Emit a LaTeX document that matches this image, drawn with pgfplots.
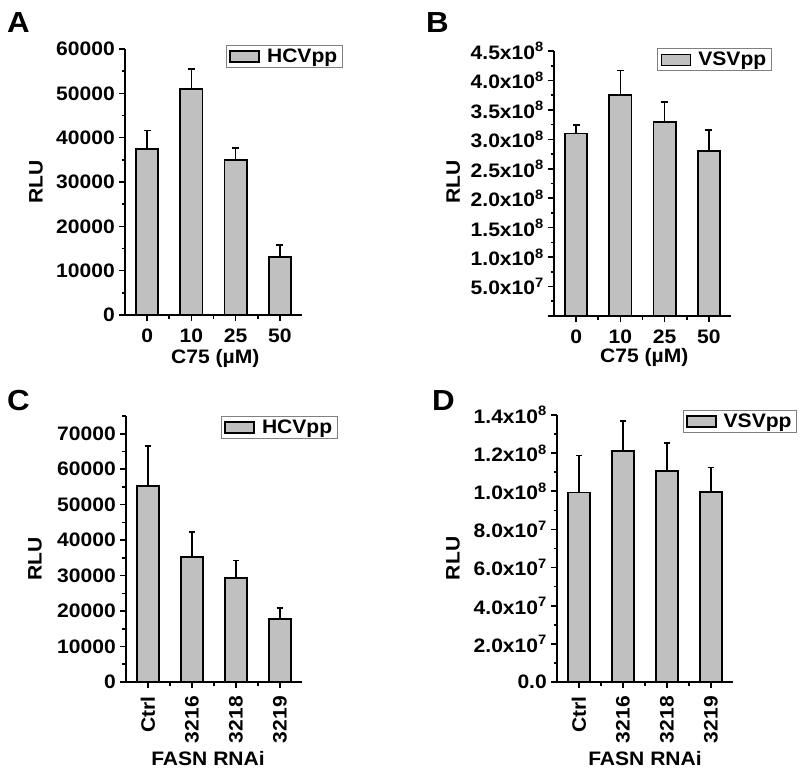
\documentclass[border=0pt]{standalone}
\usepackage{pgfplots}
\pgfplotsset{compat=1.18}
\usepackage{fontspec}
\setmainfont{Liberation Sans}[FakeStretch=1.08]
\definecolor{barfill}{RGB}{192,192,192}
\newcommand\lab{\fontsize{19.5pt}{21pt}\selectfont\bfseries}
\newcommand\panelfont{\fontsize{29pt}{31pt}\selectfont\bfseries}
\pgfplotsset{
 panel/.style={
   scale only axis, axis lines=left, axis line style={-, line width=1.9pt},
   tick align=outside, major tick length=6pt, minor tick length=3.5pt,
   every tick/.style={black, line width=1.6pt},
   xmin=-0.5, xmax=3.5, xtick={0,1,2,3}, minor xtick={0.5,1.5,2.5},
   ymin=0, scaled y ticks=false,
   ybar, bar width=0.5,
   /pgf/number format/assume math mode=true,
   tick label style={font=\lab, inner sep=0pt},
   xticklabel style={anchor=north},
   yticklabel style={anchor=east},
   xticklabel shift=8pt, yticklabel shift=4pt,
   label style={font=\lab},
   legend style={font=\lab, draw=gray, line width=0.8pt, anchor=north west, inner xsep=3pt, inner ysep=1.5pt,
     nodes={inner xsep=2pt, inner ysep=2pt},
     /tikz/every odd column/.append style={column sep=5pt}},
   legend cell align=left,
   legend image code/.code={\draw[fill=barfill, line width=1.6pt, draw=black] (0pt,-5.5pt) rectangle (29pt,5.5pt);},
   error bars/y dir=plus, error bars/y explicit,
   error bars/error bar style={line width=1.7pt, black},
   error bars/error mark options={line width=1.7pt, mark size=3.4pt, rotate=90, black},
   clip=false,
 },
 barstyle/.style={fill=barfill, draw=black, line width=1.7pt},
}
\begin{document}
\begin{tikzpicture}[font=\lab]
\useasboundingbox (0,0) rectangle (800pt,-780pt);
% Panel A
\begin{axis}[panel, at={(125pt,-315pt)}, anchor=south west, width=177pt, height=266pt,
  ymax=60000, ytick={0,10000,20000,30000,40000,50000,60000},
  yticklabels={0,10000,20000,30000,40000,50000,60000},
  minor ytick={5000,15000,25000,35000,45000,55000},
  xticklabels={0,10,25,50},
  xlabel={C75 (µM)}, ylabel={RLU},
  xlabel style={at={(axis description cs:0.51,-0.162)}, anchor=center},
  ylabel style={at={(axis description cs:-0.503,0.5)}, anchor=center},
  legend style={at={(axis description cs:0.571,1.015)}}]
\addplot[barstyle] coordinates {(0,37500) +- (0,4100) (1,51000) +- (0,4500) (2,35000) +- (0,2650) (3,13100) +- (0,2700)};
\addlegendentry{HCVpp}
\end{axis}
% Panel B
\begin{axis}[panel, at={(554pt,-316pt)}, anchor=south west, width=177pt, height=265pt,
  ymax=4.5e8, ytick={0,0.5e8,1e8,1.5e8,2e8,2.5e8,3e8,3.5e8,4e8,4.5e8},
  yticklabels={{},5.0x10\textsuperscript{7},1.0x10\textsuperscript{8},1.5x10\textsuperscript{8},2.0x10\textsuperscript{8},2.5x10\textsuperscript{8},3.0x10\textsuperscript{8},3.5x10\textsuperscript{8},4.0x10\textsuperscript{8},4.5x10\textsuperscript{8}},
  minor ytick={0.25e8,0.75e8,1.25e8,1.75e8,2.25e8,2.75e8,3.25e8,3.75e8,4.25e8},
  xticklabels={0,10,25,50},
  xlabel={C75 (µM)}, ylabel={RLU},
  xlabel style={at={(axis description cs:0.51,-0.158)}, anchor=center},
  ylabel style={at={(axis description cs:-0.569,0.507)}, anchor=center},
  legend style={at={(axis description cs:0.584,1.010)}}]
\addplot[barstyle] coordinates {(0,3.10e8) +- (0,0.14e8) (1,3.75e8) +- (0,0.42e8) (2,3.29e8) +- (0,0.34e8) (3,2.80e8) +- (0,0.36e8)};
\addlegendentry{VSVpp}
\end{axis}
% Panel C
\begin{axis}[panel, at={(126pt,-682pt)}, anchor=south west, width=176pt, height=266pt,
  ymax=75000, ytick={0,10000,20000,30000,40000,50000,60000,70000},
  yticklabels={0,10000,20000,30000,40000,50000,60000,70000},
  minor ytick={5000,15000,25000,35000,45000,55000,65000,75000},
  xticklabels={Ctrl,3216,3218,3219},
  xticklabel style={rotate=90, anchor=east},
  xlabel={FASN RNAi}, ylabel={RLU},
  xlabel style={at={(axis description cs:0.466,-0.286)}, anchor=center},
  ylabel style={at={(axis description cs:-0.517,0.464)}, anchor=center},
  legend style={at={(axis description cs:0.540,1.001)}}]
\addplot[barstyle] coordinates {(0,55200) +- (0,11400) (1,35300) +- (0,6900) (2,29400) +- (0,4900) (3,17800) +- (0,3100)};
\addlegendentry{HCVpp}
\end{axis}
% Panel D
\begin{axis}[panel, at={(557pt,-682pt)}, anchor=south west, width=176pt, height=267pt,
  ymax=1.4e8, ytick={0,0.2e8,0.4e8,0.6e8,0.8e8,1e8,1.2e8,1.4e8},
  yticklabels={0.0,2.0x10\textsuperscript{7},4.0x10\textsuperscript{7},6.0x10\textsuperscript{7},8.0x10\textsuperscript{7},1.0x10\textsuperscript{8},1.2x10\textsuperscript{8},1.4x10\textsuperscript{8}},
  minor ytick={0.1e8,0.3e8,0.5e8,0.7e8,0.9e8,1.1e8,1.3e8},
  xticklabels={Ctrl,3216,3218,3219},
  xticklabel style={rotate=90, anchor=east},
  xlabel={FASN RNAi}, ylabel={RLU},
  xlabel style={at={(axis description cs:0.5,-0.286)}, anchor=center},
  ylabel style={at={(axis description cs:-0.591,0.463)}, anchor=center},
  legend style={at={(axis description cs:0.714,1.019)}}]
\addplot[barstyle] coordinates {(0,0.994e8) +- (0,0.193e8) (1,1.211e8) +- (0,0.158e8) (2,1.108e8) +- (0,0.145e8) (3,0.996e8) +- (0,0.128e8)};
\addlegendentry{VSVpp}
\end{axis}
\node[font=\panelfont, anchor=base west, inner sep=0pt] at (7pt,-32pt) {A};
\node[font=\panelfont, anchor=base west, inner sep=0pt] at (426pt,-32pt) {B};
\node[font=\panelfont, anchor=base west, inner sep=0pt] at (7pt,-410pt) {C};
\node[font=\panelfont, anchor=base west, inner sep=0pt] at (432pt,-410pt) {D};
\end{tikzpicture}
\end{document}
